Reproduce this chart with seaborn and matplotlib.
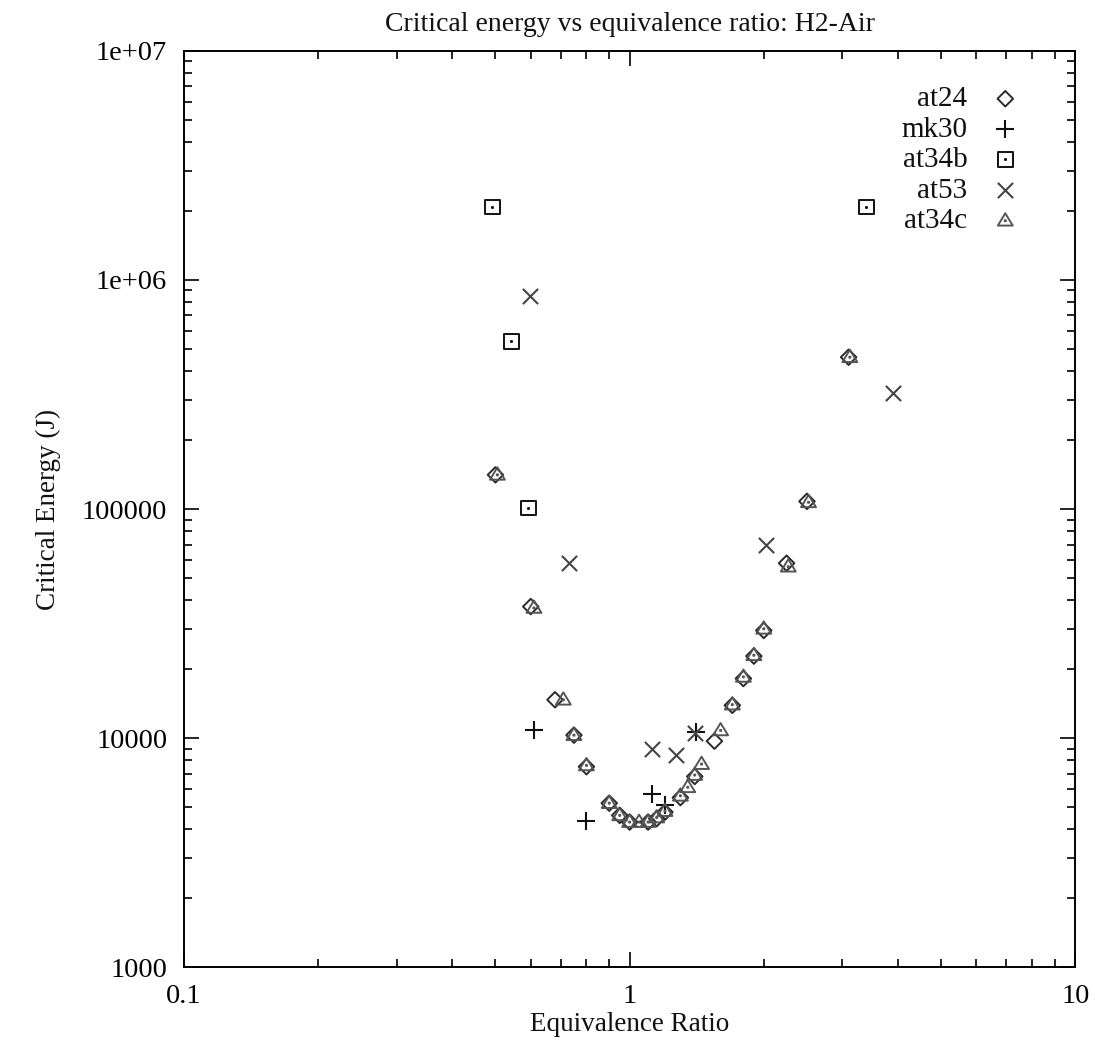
import numpy as np
import pandas as pd
import matplotlib
matplotlib.use("Agg")
import matplotlib.pyplot as plt
from matplotlib.path import Path
from matplotlib.ticker import FixedLocator, FixedFormatter, LogLocator, NullFormatter
import seaborn as sns

# ---------------- data ----------------
at24_x = [0.50, 0.60, 0.68, 0.75, 0.80, 0.90, 0.95, 1.00, 1.10, 1.15, 1.20, 1.30, 1.40, 1.55,
          1.70, 1.80, 1.90, 2.00, 2.25, 2.50, 3.10]
at24_y = [1.41e5, 3.75e4, 1.47e4, 1.03e4, 7.5e3, 5.2e3, 4.6e3, 4.3e3, 4.3e3, 4.45e3, 4.75e3,
          5.5e3, 6.8e3, 9.7e3, 1.39e4, 1.82e4, 2.28e4, 2.95e4, 5.8e4, 1.08e5, 4.6e5]

mk30_x = [0.61, 0.80, 1.12, 1.20, 1.41]
mk30_y = [1.08e4, 4.35e3, 5.7e3, 5.1e3, 1.06e4]

at34b_x = [0.493, 0.543, 0.593, 3.40]
at34b_y = [2.08e6, 5.4e5, 1.01e5, 2.08e6]

at53_x = [0.598, 0.73, 1.12, 1.27, 1.40, 2.02, 3.90]
at53_y = [8.5e5, 5.8e4, 9.0e3, 8.4e3, 1.05e4, 7.0e4, 3.2e5]

at34c_x = [0.505, 0.61, 0.71, 0.75, 0.80, 0.90, 0.95, 1.00, 1.05, 1.10, 1.15, 1.20, 1.30, 1.35,
           1.40, 1.45, 1.60, 1.70, 1.80, 1.90, 2.00, 2.27, 2.52, 3.12]
at34c_y = [1.41e5, 3.7e4, 1.47e4, 1.03e4, 7.6e3, 5.2e3, 4.6e3, 4.3e3, 4.3e3, 4.3e3, 4.5e3, 4.8e3,
           5.6e3, 6.1e3, 6.9e3, 7.7e3, 1.08e4, 1.4e4, 1.85e4, 2.3e4, 3.0e4, 5.6e4, 1.07e5, 4.6e5]

x_ticks = [0.1, 1, 10]
x_ticklabels = ["0.1", "1", "10"]
y_ticks = [1e3, 1e4, 1e5, 1e6, 1e7]
y_ticklabels = ["1000", "10000", "100000", "1e+06", "1e+07"]

title = "Critical energy vs equivalence ratio: H2-Air"
xlabel = "Equivalence Ratio"
ylabel = "Critical Energy (J)"

# ---------------- style ----------------
sns.set_theme(style="ticks")
plt.rcParams["font.family"] = ["Liberation Serif", "DejaVu Serif"]
plt.rcParams["mathtext.fontset"] = "stix"

# custom markers (gnuplot-like)
diamond = Path([(0, 1), (1, 0), (0, -1), (-1, 0), (0, 1)],
               [Path.MOVETO, Path.LINETO, Path.LINETO, Path.LINETO, Path.CLOSEPOLY])
d = 0.07
box_dot = Path(
    [(-1, -1), (1, -1), (1, 1), (-1, 1), (-1, -1),
     (-d, -d), (d, -d), (d, d), (-d, d), (-d, -d)],
    [Path.MOVETO, Path.LINETO, Path.LINETO, Path.LINETO, Path.CLOSEPOLY] * 2)
tri_dot = Path(
    [(0, 1), (-1, -0.65), (1, -0.65), (0, 1),
     (-d, -d), (d, -d), (d, d), (-d, d), (-d, -d)],
    [Path.MOVETO, Path.LINETO, Path.LINETO, Path.CLOSEPOLY,
     Path.MOVETO, Path.LINETO, Path.LINETO, Path.LINETO, Path.CLOSEPOLY])

fig = plt.figure(figsize=(10.95, 10.49), dpi=100)
ax = fig.add_axes([0.168, 0.078, 0.814, 0.8735])

series = [
    ("at24", at24_x, at24_y, diamond, 125, "#2a2a2a", True),
    ("mk30", mk30_x, mk30_y, "+", 150, "#111111", False),
    ("at34b", at34b_x, at34b_y, box_dot, 110, "#111111", True),
    ("at53", at53_x, at53_y, "x", 120, "#444444", False),
    ("at34c", at34c_x, at34c_y, tri_dot, 115, "#555555", True),
]

for name, xs, ys, mk, s, c, filled in series:
    df = pd.DataFrame({"x": xs, "y": ys})
    if filled:
        sns.scatterplot(data=df, x="x", y="y", ax=ax, marker=mk, s=s,
                        facecolor="none", edgecolor=c, linewidth=1.4,
                        label=name, zorder=3)
    else:
        sns.scatterplot(data=df, x="x", y="y", ax=ax, marker=mk, s=s,
                        color=c, linewidth=1.5, label=name, zorder=3)

ax.set_xscale("log")
ax.set_yscale("log")
ax.set_xlim(0.1, 10)
ax.set_ylim(1e3, 1e7)

ax.xaxis.set_major_locator(FixedLocator(x_ticks))
ax.xaxis.set_major_formatter(FixedFormatter(x_ticklabels))
ax.yaxis.set_major_locator(FixedLocator(y_ticks))
ax.yaxis.set_major_formatter(FixedFormatter(y_ticklabels))
ax.xaxis.set_minor_locator(LogLocator(base=10, subs=np.arange(2, 10), numticks=20))
ax.yaxis.set_minor_locator(LogLocator(base=10, subs=np.arange(2, 10), numticks=20))
ax.xaxis.set_minor_formatter(NullFormatter())
ax.yaxis.set_minor_formatter(NullFormatter())

ax.tick_params(which="both", direction="in", top=True, right=True,
               colors="black", width=1.2)
ax.tick_params(which="major", length=11, labelsize=20.5, pad=12)
ax.tick_params(which="minor", length=6)
for sp in ax.spines.values():
    sp.set_visible(True)
    sp.set_linewidth(1.4)
    sp.set_color("black")

ax.set_title(title, fontsize=20, pad=14, color="#111111")
ax.set_xlabel(xlabel, fontsize=19.5, labelpad=2, color="#111111")
ax.set_ylabel(ylabel, fontsize=19.5, labelpad=15, color="#111111")

leg = ax.legend(loc="upper right", bbox_to_anchor=(1.0, 1.019), frameon=False,
                markerfirst=False, fontsize=21, labelspacing=0.14,
                handletextpad=0.70, borderaxespad=1.4, handlelength=1.2)
for t in leg.get_texts():
    t.set_color("#111111")

fig.savefig("out.png", dpi=100, facecolor="white")
